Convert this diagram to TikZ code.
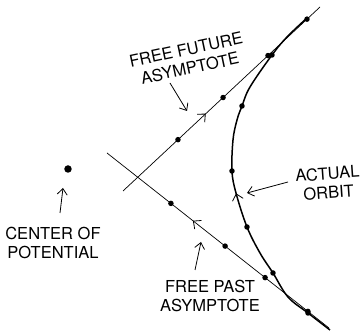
\documentclass[tikz,border=0pt]{standalone}
\usepackage{fontspec}
\setmainfont{TeX Gyre Heros}
\usetikzlibrary{arrows.meta,calc,decorations.markings}

\begin{document}
\begin{tikzpicture}[x=1pt,y=-1pt,
  asym/.style={line width=0.7pt},
  orbitline/.style={line width=1.5pt},
  label/.style={font=\fontsize{16.5}{19}\selectfont,align=center,inner sep=0pt},
  pointer/.style={line width=0.8pt,-{Straight Barb[length=6pt,width=10pt]}},
  dot/.style={circle,fill,inner sep=0pt,minimum size=5.5pt},
  midarrow/.style={postaction={decorate},decoration={markings,
    mark=at position #1 with {\arrow{Straight Barb[length=6pt,width=11pt,line width=0.8pt]}}}}]
  \useasboundingbox (0,0) rectangle (360,331);
  % asymptotes
  \coordinate (fa0) at (123,191);
  \coordinate (fa1) at (320,7);
  \coordinate (pa0) at (329,328);
  \coordinate (pa1) at (107,153);
  \draw[asym,midarrow=0.42] (fa0) -- (fa1);
  \draw[asym,midarrow=0.613] (pa0) -- (pa1);
  \foreach \p [count=\i] in {0.279,0.508,0.736,0.934}
    {\node[dot] (fdot\i) at ($(fa0)!\p!(fa1)$) {};}
  \foreach \p [count=\i] in {0.095,0.288,0.468,0.712}
    {\node[dot] (pdot\i) at ($(pa0)!\p!(pa1)$) {};}
  % orbit
  \draw[orbitline,midarrow=0.46] plot[smooth,tension=0.6] coordinates {
    (330,330) (308,313) (288,297) (273,273) (260,253) (247,227) (236,193)
    (232,171) (233,140) (237,120) (242,106) (250,87) (272,55) (287,37) (307,18)};
  \foreach \x/\y [count=\i] in {308/313,273/273,247/227,232/171,242/106,272/55}
    {\node[dot] (odot\i) at (\x,\y) {};}
  \node[dot,minimum size=7.5pt] (centre) at (68,169) {};
  % labels
  \node[label,rotate=12] (futurelab) at (188,59) {FREE FUTURE\\ASYMPTOTE};
  \node[label,rotate=4] (orbitlab) at (328,183) {ACTUAL\\ORBIT};
  \node[label] (centrelab) at (53,243) {CENTER OF\\POTENTIAL};
  \node[label] (pastlab) at (210,296) {FREE PAST\\ASYMPTOTE};
  \coordinate (futuretail) at (170,83);
  \coordinate (futuretip) at (187,111);
  \coordinate (orbittail) at (288,182);
  \coordinate (orbittip) at (247,193);
  \coordinate (centretail) at (60,213);
  \coordinate (centretip) at (63,188);
  \coordinate (pasttail) at (195,270);
  \coordinate (pasttip) at (201,242);
  \draw[pointer] (futuretail) -- (futuretip);
  \draw[pointer] (orbittail) -- (orbittip);
  \draw[pointer] (centretail) -- (centretip);
  \draw[pointer] (pasttail) -- (pasttip);
\end{tikzpicture}
\end{document}
